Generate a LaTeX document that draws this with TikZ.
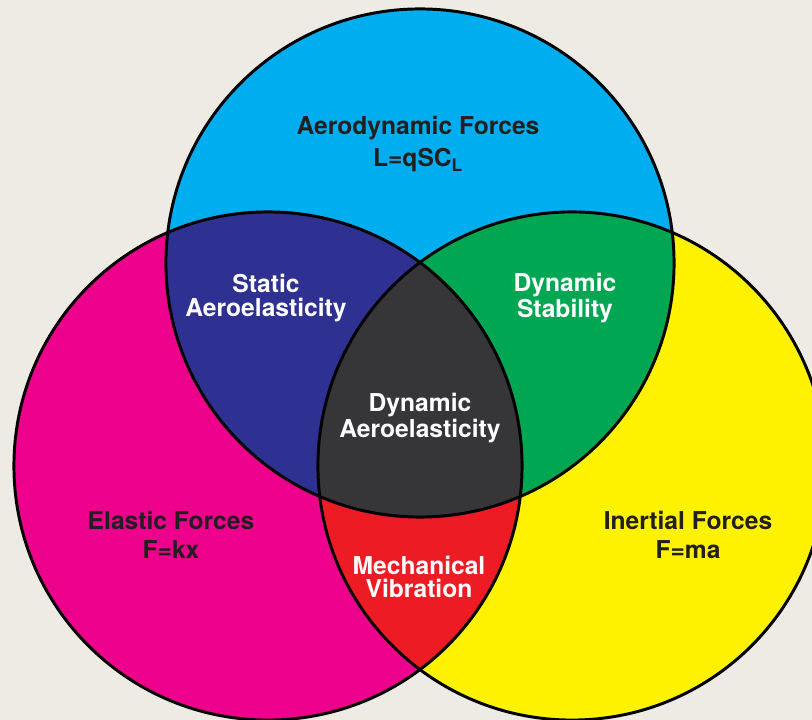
\documentclass[tikz,border=0pt]{standalone}
\usepackage{fontspec}
\setmainfont{TeX Gyre Heros}
\definecolor{paperbg}{HTML}{EEEBE5}
\definecolor{aerocyan}{HTML}{00AEEF}
\definecolor{elasmagenta}{HTML}{EC008C}
\definecolor{ineryellow}{HTML}{FFF200}
\definecolor{statblue}{HTML}{2E3192}
\definecolor{dyngreen}{HTML}{00A651}
\definecolor{vibred}{HTML}{ED1C24}
\definecolor{coregray}{HTML}{363639}
\definecolor{inkdark}{HTML}{231F20}

\begin{document}
\begin{tikzpicture}[x=0.025cm, y=-0.025cm, font=\fontsize{17.5}{16.6}\selectfont\bfseries,
    ring/.style={draw=black, line width=2.1pt},
    darklabel/.style={align=center, text=inkdark, inner sep=0pt},
    lightlabel/.style={align=center, text=white, inner sep=0pt}]
  % Fondo
  \fill[paperbg] (0,0) rectangle (812,720);
  \useasboundingbox (0,0) rectangle (812,720);
  \clip (0,0) rectangle (812,720);
  % Centros
  \coordinate (aero) at (420,263);
  \coordinate (elas) at (268,466);
  \coordinate (iner) at (572,466);
  % Circulos
  \fill[aerocyan] (aero) circle (6.35cm);
  \fill[elasmagenta] (elas) circle (6.35cm);
  \fill[ineryellow] (iner) circle (6.35cm);
  % Intersecciones con el aerodinamico
  \begin{scope}
    \clip (aero) circle (6.35cm);
    \fill[statblue] (elas) circle (6.35cm);
    \fill[dyngreen] (iner) circle (6.35cm);
  \end{scope}
  % Vibracion y centro
  \begin{scope}
    \clip (elas) circle (6.35cm);
    \fill[vibred] (iner) circle (6.35cm);
    \clip (iner) circle (6.35cm);
    \fill[coregray] (aero) circle (6.35cm);
  \end{scope}
  % Bordes
  \draw[ring] (aero) circle (6.35cm);
  \draw[ring] (elas) circle (6.35cm);
  \draw[ring] (iner) circle (6.35cm);
  % Textos
  \node[darklabel] (aerolbl) at (418,144) {Aerodynamic Forces\\[5.6pt]L=qSC\textsubscript{L}};
  \node[darklabel] (elaslbl) at (171,535) {Elastic Forces\\[3.6pt]F=kx};
  \node[darklabel] (inerlbl) at (688,535) {Inertial Forces\\[3.6pt]F=ma};
  \node[lightlabel] (statlbl) at (266,298) {Static\\Aeroelasticity};
  \node[lightlabel] (dynlbl) at (565,298) {Dynamic\\Stability};
  \node[lightlabel] (corelbl) at (420,418) {Dynamic\\Aeroelasticity};
  \node[lightlabel] (viblbl) at (419,577) {Mechanical\\Vibration};
\end{tikzpicture}
\end{document}
